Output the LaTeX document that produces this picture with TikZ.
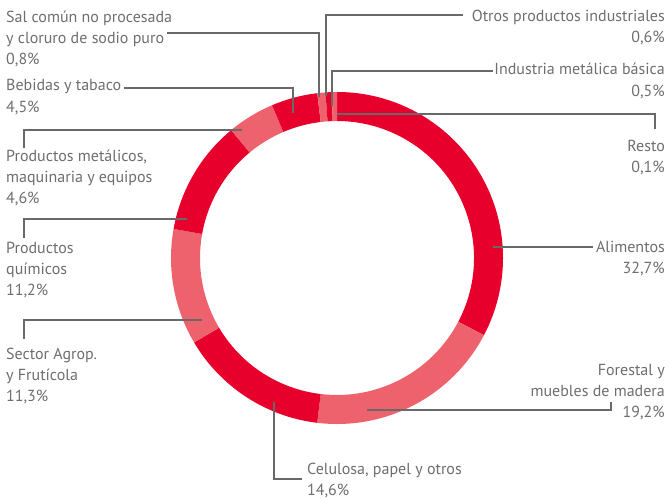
\documentclass[tikz,border=0pt]{standalone}
\usepackage{fontspec}
\setmainfont{PT Sans}
\usetikzlibrary{calc}
\definecolor{darkred}{RGB}{232,0,45}
\definecolor{lightred}{RGB}{238,98,110}
\definecolor{txtgray}{RGB}{110,110,110}
\definecolor{linegray}{RGB}{105,105,105}
\tikzset{
  lbl/.style={text=txtgray, inner sep=0pt, font=\fontsize{16}{21}\selectfont},
  lblL/.style={lbl, anchor=base west, align=left},
  lblR/.style={lbl, anchor=base east, align=right},
  leader/.style={draw=linegray, line width=1.1pt},
}
\newcommand{\ringseg}[3]{%
  \fill[#3] ($(c)+(#1:166)$) arc[start angle=#1, end angle=#2, radius=166]
    -- ($(c)+(#2:137)$) arc[start angle=#2, end angle=#1, radius=137] -- cycle;}
\begin{document}
\begin{tikzpicture}[x=1pt,y=-1pt]
\useasboundingbox (0,0) rectangle (668,500);
\coordinate (c) at (337,258);
% ring segments, clockwise from top (angle -90)
\ringseg{-90}{27.72}{darkred}
\ringseg{27.72}{96.84}{lightred}
\ringseg{96.84}{149.4}{darkred}
\ringseg{149.4}{190.08}{lightred}
\ringseg{190.08}{230.4}{darkred}
\ringseg{230.4}{246.96}{lightred}
\ringseg{246.96}{263.16}{darkred}
\ringseg{263.16}{266.04}{lightred}
\ringseg{266.04}{268.2}{darkred}
\ringseg{268.2}{270.0}{lightred}
% labels (anchored at the baseline of their last line)
\node[lblL] (sal) at (6,65) {Sal común no procesada\\y cloruro de sodio puro\\0,8\%};
\node[lblL] (beb) at (6,112) {Bebidas y tabaco\\4,5\%};
\node[lblL] (met) at (6,203) {Productos metálicos,\\maquinaria y equipos\\4,6\%};
\node[lblL] (qui) at (6,295) {Productos\\químicos\\11,2\%};
\node[lblL] (agr) at (6,401) {Sector Agrop.\\y Frutícola\\11,3\%};
\node[lblL] (cel) at (307,495) {Celulosa, papel y otros\\14,6\%};
\node[lblR] (otr) at (665,43) {Otros productos industriales\\0,6\%};
\node[lblR] (ind) at (665,96) {Industria metálica básica\\0,5\%};
\node[lblR] (res) at (665,172) {Resto\\0,1\%};
\node[lblR] (ali) at (665,273) {Alimentos\\32,7\%};
\node[lblR] (for) at (665,417) {Forestal y\\muebles de madera\\19,2\%};
% leader coordinates
\coordinate (salA) at (167,33);  \coordinate (salB) at (319,97);
\coordinate (bebA) at (124,88);  \coordinate (bebB) at (293,113);
\coordinate (otrA) at (463,15);  \coordinate (otrB) at (326,96);
\coordinate (indA) at (493,71);  \coordinate (indB) at (332,106);
\coordinate (resA) at (337,114); \coordinate (resB) at (655,129);
\coordinate (metA) at (242,130); \coordinate (metB) at (24,148);
\coordinate (quiA) at (187,219); \coordinate (quiB) at (24,238);
\coordinate (agrA) at (202,320); \coordinate (agrB) at (24,339);
\coordinate (aliA) at (493,247); \coordinate (aliB) at (593,247);
\coordinate (forA) at (367,410); \coordinate (forB) at (611,402);
\coordinate (celA) at (274,402); \coordinate (celB) at (302,479);
\draw[leader] (salA) -| (salB);
\draw[leader] (bebA) -| (bebB);
\draw[leader] (otrA) -| (otrB);
\draw[leader] (indA) -| (indB);
\draw[leader] (resA) -| (resB);
\draw[leader] (metA) -| (metB);
\draw[leader] (quiA) -| (quiB);
\draw[leader] (agrA) -| (agrB);
\draw[leader] (aliA) -- (aliB);
\draw[leader] (forA) -| (forB);
\draw[leader] (celA) |- (celB);
\end{tikzpicture}
\end{document}
